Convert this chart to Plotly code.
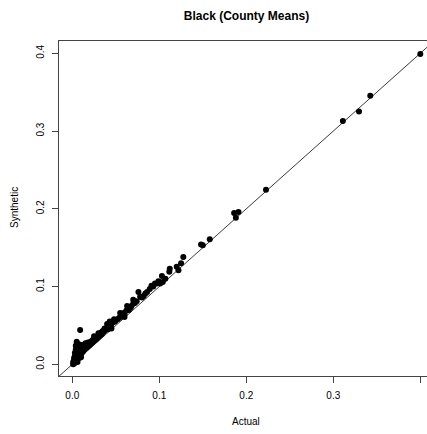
import plotly.graph_objects as go

# County means: actual vs synthetic share
actual = [
    0.001, 0.002, 0.003, 0.005, 0.006, 0.008, 0.009, 0.010,
    0.001, 0.002, 0.002, 0.003, 0.003, 0.003, 0.004, 0.004, 0.004, 0.005,
    0.005, 0.005, 0.006, 0.006, 0.006, 0.007, 0.007, 0.007, 0.008, 0.008,
    0.009, 0.009, 0.010, 0.010, 0.011, 0.011, 0.012, 0.012, 0.013, 0.013,
    0.014, 0.015, 0.015, 0.016, 0.017, 0.018, 0.018, 0.019, 0.020, 0.021,
    0.022, 0.023, 0.024, 0.025, 0.026, 0.027, 0.028, 0.029, 0.030, 0.031,
    0.032, 0.033, 0.034, 0.035, 0.036, 0.037, 0.038, 0.040, 0.041, 0.043,
    0.043, 0.045, 0.047, 0.049, 0.050, 0.052, 0.054, 0.057, 0.059, 0.060,
    0.062, 0.064, 0.065, 0.067, 0.068, 0.070, 0.070, 0.072, 0.074, 0.076,
    0.078, 0.080, 0.082, 0.084, 0.086, 0.089, 0.091, 0.093, 0.095, 0.097,
    0.099, 0.101, 0.103, 0.104, 0.107, 0.112, 0.1115, 0.120, 0.122, 0.125,
    0.1276, 0.148, 0.150, 0.158, 0.186, 0.191, 0.188, 0.2226, 0.311, 0.3295,
    0.3425, 0.400,
    0.025, 0.030, 0.040, 0.045, 0.048, 0.055, 0.060, 0.063,
]
synthetic = [
    0.000, 0.001, 0.002, 0.004, 0.003, 0.008, 0.010, 0.009,
    0.003, 0.005, 0.008, 0.004, 0.011, 0.015, 0.006, 0.019, 0.024, 0.009,
    0.013, 0.029, 0.007, 0.017, 0.021, 0.010, 0.014, 0.026, 0.012, 0.018,
    0.044, 0.015, 0.021, 0.013, 0.017, 0.025, 0.016, 0.020, 0.018, 0.023,
    0.019, 0.022, 0.027, 0.021, 0.024, 0.023, 0.028, 0.026, 0.025, 0.029,
    0.027, 0.031, 0.029, 0.033, 0.031, 0.035, 0.033, 0.036, 0.035, 0.038,
    0.037, 0.041, 0.039, 0.043, 0.042, 0.046, 0.044, 0.047, 0.045, 0.050,
    0.055, 0.052, 0.054, 0.055, 0.057, 0.058, 0.060, 0.063, 0.066, 0.064,
    0.069, 0.072, 0.070, 0.073, 0.075, 0.078, 0.083, 0.079, 0.081, 0.093,
    0.087, 0.086, 0.088, 0.091, 0.093, 0.097, 0.101, 0.100, 0.104, 0.104,
    0.107, 0.104, 0.1136, 0.106, 0.110, 0.123, 0.119, 0.1255, 0.121, 0.130,
    0.138, 0.154, 0.153, 0.161, 0.1946, 0.196, 0.1886, 0.2246, 0.313, 0.325,
    0.3455, 0.399,
    0.036, 0.040, 0.052, 0.046, 0.058, 0.066, 0.061, 0.075,
]

tick_vals = [0.0, 0.1, 0.2, 0.3, 0.4]
tick_text = ["0.0", "0.1", "0.2", "0.3", "0.4"]
identity = [-0.05, 0.5]

W, H = 427, 434
L, R, T, B = 59, 0, 41, 58
x_range = [-0.0153, 0.4077]
y_range = [-0.0150, 0.4158]

font = "Liberation Sans, Arial, Helvetica, sans-serif"

fig = go.Figure()
fig.add_trace(go.Scatter(
    x=identity, y=identity, mode="lines",
    line=dict(color="#3a3a3a", width=1), hoverinfo="skip", showlegend=False,
))
fig.add_trace(go.Scatter(
    x=actual, y=synthetic, mode="markers",
    marker=dict(color="black", size=6, line=dict(width=0)),
    showlegend=False,
))

axis_common = dict(
    showgrid=False, zeroline=False, showline=True, linecolor="#444",
    linewidth=1, ticks="outside", ticklen=6, tickwidth=1, tickcolor="#444",
    tickvals=tick_vals, ticktext=tick_text, ticklabelstandoff=4,
    tickfont=dict(family=font, size=10, color="black"),
)

fig.update_layout(
    width=W, height=H,
    margin=dict(l=L, r=R, t=T, b=B, pad=0),
    plot_bgcolor="white", paper_bgcolor="white",
    xaxis=dict(range=x_range, mirror=True, **axis_common),
    yaxis=dict(range=y_range, mirror=False, tickangle=-90, **axis_common),
    title=dict(
        text="<b>Black (County Means)</b>",
        font=dict(family=font, size=12, color="black"),
        xref="container", yref="container",
        x=246.5 / W, y=1 - 16 / H, xanchor="center", yanchor="middle",
    ),
    annotations=[
        dict(text="Actual", xref="paper", yref="paper",
             x=0.5095, y=-(421.7 - 376) / 335, xanchor="center", yanchor="middle",
             showarrow=False, font=dict(family=font, size=10, color="black")),
        dict(text="Synthetic", xref="paper", yref="paper",
             x=(15 - 59) / 368, y=0.5015, xanchor="center", yanchor="middle",
             textangle=-90, showarrow=False,
             font=dict(family=font, size=10, color="black")),
    ],
)

fig.write_html("out.html")
